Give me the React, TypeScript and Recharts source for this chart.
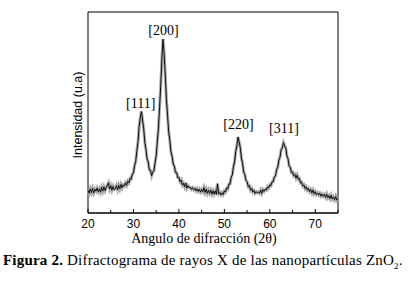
import React from 'react';
import { LineChart, Line, XAxis, YAxis, ReferenceArea, ReferenceDot } from 'recharts';

// 2θ sampling: start 20°, step 0.25°
const angleStart = 20;
const angleStep = 0.25;

// Intensity (u.a.), 0..100 scale, one value per 0.25°
const intensities: number[] = [
  11.4, 9.8, 11.9, 10.2,
  12.2, 10.0, 11.8, 10.9,
  12.4, 10.6, 12.0, 10.4,
  12.8, 10.9, 13.0, 11.2,
  12.6, 13.8, 15.0, 12.0,
  13.6, 11.4, 13.2, 11.6,
  12.0, 13.6, 11.6, 13.8,
  12.0, 14.2, 12.6, 14.0,
  13.4, 15.0, 13.8, 15.8,
  15.0, 17.2, 16.8, 19.4,
  20.0, 23.6, 25.6, 31.0,
  35.4, 43.0, 47.4, 50.5,
  46.2, 42.0, 35.2, 31.6,
  26.8, 25.4, 21.4, 21.2,
  18.6, 20.4, 20.9, 25.0,
  28.4, 35.6, 42.4, 52.6,
  63.4, 76.6, 86.5, 79.4,
  68.6, 56.4, 48.6, 40.4,
  36.2, 30.4, 28.2, 24.4,
  23.2, 20.2, 20.1, 17.6,
  17.6, 15.6, 16.4, 14.0,
  14.8, 13.0, 15.0, 12.4,
  13.6, 12.6, 12.8, 11.8,
  12.6, 11.6, 12.2, 11.0,
  12.0, 10.8, 11.8, 10.4,
  11.6, 10.6, 12.6, 10.2,
  11.8, 9.8, 11.4, 9.8,
  11.4, 9.4, 11.0, 9.4,
  11.0, 9.2, 14.6, 9.6,
  10.2, 9.0, 10.0, 9.2,
  11.0, 10.4, 12.4, 12.0,
  14.4, 14.4, 17.8, 19.0,
  23.2, 25.4, 30.6, 33.4,
  37.8, 35.4, 32.6, 27.4,
  24.6, 20.4, 19.2, 16.2,
  15.6, 13.2, 13.6, 11.4,
  12.2, 10.4, 11.2, 9.8,
  10.6, 10.0, 10.4, 9.8,
  11.4, 9.8, 11.6, 10.8,
  11.8, 11.4, 13.0, 12.4,
  14.0, 13.6, 15.6, 15.6,
  18.0, 18.4, 21.6, 22.8,
  26.4, 27.8, 31.6, 32.4,
  35.0, 33.4, 32.6, 28.4,
  27.0, 23.4, 22.8, 20.2,
  20.4, 18.6, 19.2, 17.4,
  18.8, 16.8, 17.2, 15.0,
  15.4, 13.4, 14.0, 12.2,
  13.0, 11.4, 12.2, 10.6,
  11.6, 10.0, 11.4, 9.6,
  10.6, 9.2, 10.0, 9.0,
  9.8, 8.4, 9.4, 8.4,
  9.2, 7.8, 9.4, 7.6,
  8.6, 7.2, 8.8, 7.0,
  8.0, 6.6, 8.2, 6.4,
  7.0,
];

const xTicks = [20, 25, 30, 35, 40, 45, 50, 55, 60, 65, 70, 75];

const peakNames = ['[111]', '[200]', '[220]', '[311]'];
const peakAngles = [31.6, 36.6, 53.1, 63.1];
const peakLabelLevels = [54.7, 91, 44.3, 42.3];

const data = intensities.map((v, i) => ({ angle: angleStart + i * angleStep, intensity: v }));

const sans = '"Liberation Sans", Arial, sans-serif';
const serif = '"Liberation Serif", "Times New Roman", serif';

function AxisTick(props: any) {
  const { x, y, payload } = props;
  const major = payload.value % 10 === 0;
  return (
    <g>
      <line x1={x} y1={y} x2={x} y2={y - (major ? 4 : 3)} stroke="#000" strokeWidth={1} />
      {major && payload.value !== 75 ? (
        <text x={x} y={y + 15} textAnchor="middle" fontFamily={sans} fontSize={12} fill="#000">
          {payload.value}
        </text>
      ) : null}
    </g>
  );
}

export default function App() {
  return (
    <div style={{ position: 'absolute', left: 0, top: 0, width: 414, height: 281, background: '#fff' }}>
      <LineChart width={414} height={281} data={data} margin={{ top: 12, right: 76, bottom: 0, left: 88 }}>
        <XAxis
          type="number"
          dataKey="angle"
          domain={[20, 75]}
          ticks={xTicks}
          tickSize={0}
          tickMargin={0}
          tickLine={false}
          axisLine={{ stroke: '#000' }}
          tick={<AxisTick />}
          height={68}
          interval={0}
        />
        <YAxis type="number" domain={[0, 100]} hide />
        <Line type="linear" dataKey="intensity" stroke="#aaaaaa" strokeWidth={3} dot={false} isAnimationActive={false} />
        <Line type="linear" dataKey="intensity" stroke="#111" strokeWidth={1} dot={false} isAnimationActive={false} />
        <ReferenceArea x1={20} x2={75} y1={0} y2={100} fill="none" stroke="#000" strokeWidth={1} ifOverflow="visible" />
        {peakNames.map((n, i) => (
          <ReferenceDot
            key={n}
            x={peakAngles[i]}
            y={peakLabelLevels[i]}
            r={0}
            ifOverflow="visible"
            label={{ value: n, position: 'center', fontFamily: serif, fontSize: 14, fill: '#000' }}
          />
        ))}
      </LineChart>
      <div
        style={{
          position: 'absolute', left: 78, top: 115, transform: 'translate(-50%, -50%) rotate(-90deg)',
          fontFamily: sans, fontSize: 12.5, whiteSpace: 'nowrap', lineHeight: '14px', color: '#000',
        }}
      >
        Intensidad (u.a)
      </div>
      <div
        style={{
          position: 'absolute', left: 204, top: 239, transform: 'translate(-50%, -50%)',
          fontFamily: serif, fontSize: 14, whiteSpace: 'nowrap', lineHeight: '16px', color: '#000',
        }}
      >
        Angulo de difracción (2θ)
      </div>
      <div
        style={{
          position: 'absolute', left: 3, top: 252, fontFamily: serif, fontSize: 15, letterSpacing: 0.2,
          whiteSpace: 'nowrap', lineHeight: '16px', color: '#000',
        }}
      >
        <b>Figura 2.</b> Difractograma de rayos X de las nanopartículas ZnO<sub style={{ fontSize: 9 }}>2</sub>.
      </div>
    </div>
  );
}
